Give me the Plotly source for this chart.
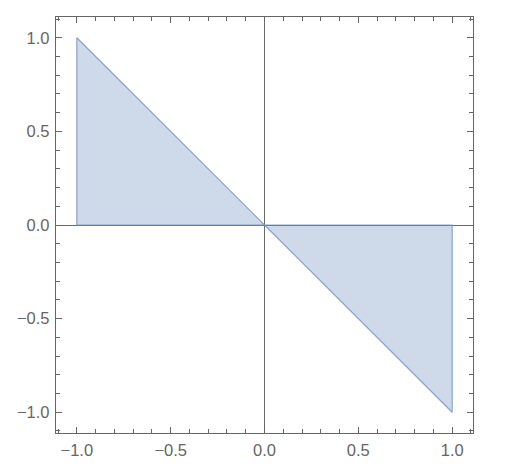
import plotly.graph_objects as go

# two filled triangles between y = -x and the x axis
tri_left_x = [-1, -1, 0, -1]
tri_left_y = [0, 1, 0, 0]
tri_right_x = [0, 1, 1, 0]
tri_right_y = [0, -1, 0, 0]

tick_vals = [-1.0, -0.5, 0.0, 0.5, 1.0]
tick_text = ["\u22121.0", "\u22120.5", "0.0", "0.5", "1.0"]

fill_col = "rgba(94,129,181,0.30)"
edge_col = "rgba(120,150,200,0.85)"

fig = go.Figure()
for xs, ys in [(tri_left_x, tri_left_y), (tri_right_x, tri_right_y)]:
    fig.add_trace(go.Scatter(x=xs, y=ys, mode="lines", fill="toself",
                             fillcolor=fill_col,
                             line=dict(color=edge_col, width=1.2),
                             hoverinfo="skip", showlegend=False))

axis_style = dict(
    range=[-1.111, 1.111],
    tickvals=tick_vals, ticktext=tick_text,
    ticks="inside", ticklen=6, tickwidth=1, tickcolor="#666666",
    minor=dict(dtick=0.1, tick0=0, ticks="inside", ticklen=3.5,
               tickwidth=1, tickcolor="#666666", showgrid=False),
    showline=True, linecolor="#666666", linewidth=1.3, mirror="allticks",
    showgrid=False,
    zeroline=True, zerolinecolor="#6a6a6a", zerolinewidth=1,
    tickfont=dict(family="Liberation Sans, Arial, sans-serif", size=16.5, color="#666666"),
)

# page body adds an 8px offset, so margins are shifted to compensate
fig.update_layout(
    width=531, height=469,
    margin=dict(l=48, r=66, t=9, b=44),
    plot_bgcolor="white", paper_bgcolor="white",
    xaxis=dict(axis_style, ticklabelstandoff=2),
    yaxis=dict(axis_style, ticklabelstandoff=2),
)

fig.write_html("out.html")
